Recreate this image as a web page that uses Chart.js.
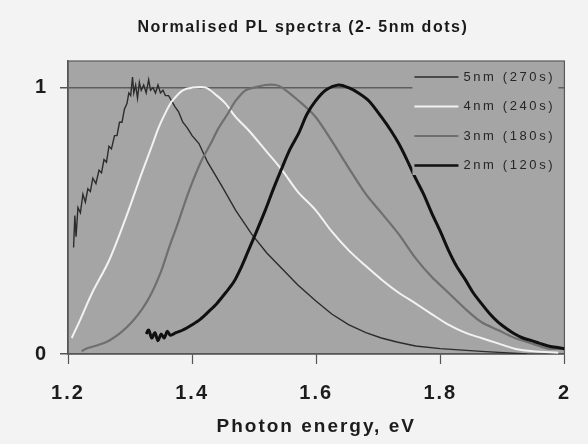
<!DOCTYPE html>
<html>
<head>
<meta charset="utf-8">
<script src="https://cdn.jsdelivr.net/npm/chart.js@4/dist/chart.umd.min.js"></script>
<style>
  html, body { margin: 0; padding: 0; background: #f3f3f3; }
  #wrap { width: 588px; height: 444px; }
</style>
</head>
<body>
<div id="wrap"><canvas id="c" width="588" height="444"></canvas></div>
<script>
// ---- data ----
const chartTitle = "Normalised PL spectra (2- 5nm dots)";
const xAxisTitle = "Photon energy, eV";
const seriesLabels = ["5nm (270s)", "4nm (240s)", "3nm (180s)", "2nm (120s)"];
const yTickValues = [0, 1];

const e5 = [1.209,1.211,1.213,1.216,1.220,1.224,1.228,1.232,1.236,1.240,1.245,1.250,1.254,1.258,1.262,1.266,1.270,1.275,1.279,1.283,1.287,1.291,1.295,1.298,1.301,1.304,1.306,1.309,1.312,1.315,1.318,1.322,1.326,1.330,1.333,1.337,1.341,1.345,1.349,1.353,1.357,1.362,1.367,1.372,1.378,1.385,1.392,1.400,1.411,1.425,1.448,1.470,1.496,1.520,1.545,1.570,1.599,1.625,1.652,1.680,1.705,1.730,1.760,1.800,1.866,1.940];
const v5 = [0.40,0.52,0.44,0.55,0.53,0.60,0.57,0.62,0.61,0.66,0.64,0.69,0.68,0.73,0.72,0.78,0.77,0.82,0.82,0.87,0.87,0.92,0.94,0.98,0.97,1.04,0.98,1.01,0.96,1.02,0.99,1.01,0.98,1.03,0.99,1.00,0.98,1.01,0.98,0.99,0.97,0.97,0.95,0.93,0.91,0.87,0.85,0.82,0.79,0.72,0.63,0.54,0.45,0.38,0.32,0.26,0.20,0.15,0.11,0.08,0.06,0.045,0.03,0.02,0.01,0.0];

const e4 = [1.206,1.220,1.239,1.266,1.293,1.319,1.335,1.346,1.358,1.368,1.385,1.400,1.422,1.440,1.454,1.470,1.491,1.520,1.545,1.570,1.599,1.625,1.652,1.680,1.705,1.733,1.760,1.786,1.813,1.840,1.866,1.893,1.920,1.950,1.990];
const v4 = [0.06,0.13,0.23,0.35,0.51,0.68,0.78,0.85,0.91,0.95,0.99,1.00,1.00,0.97,0.94,0.89,0.84,0.76,0.69,0.61,0.54,0.46,0.39,0.33,0.28,0.23,0.19,0.15,0.11,0.08,0.06,0.04,0.02,0.01,0.005];

const e3 = [1.222,1.229,1.250,1.266,1.285,1.303,1.320,1.335,1.350,1.363,1.377,1.390,1.403,1.416,1.430,1.443,1.457,1.470,1.486,1.500,1.518,1.535,1.545,1.572,1.599,1.625,1.652,1.680,1.705,1.733,1.760,1.786,1.813,1.840,1.866,1.893,1.920,1.947,1.974,2.000];
const v3 = [0.01,0.02,0.035,0.05,0.08,0.12,0.17,0.23,0.31,0.40,0.49,0.58,0.66,0.73,0.79,0.85,0.90,0.95,0.99,1.00,1.01,1.01,1.00,0.95,0.89,0.80,0.70,0.60,0.53,0.45,0.36,0.29,0.23,0.17,0.12,0.09,0.06,0.04,0.02,0.02];

const e2 = [1.326,1.330,1.335,1.340,1.345,1.350,1.355,1.360,1.365,1.374,1.385,1.400,1.413,1.427,1.440,1.454,1.467,1.480,1.491,1.502,1.518,1.531,1.545,1.558,1.572,1.585,1.599,1.615,1.636,1.652,1.668,1.685,1.705,1.720,1.733,1.746,1.760,1.773,1.786,1.800,1.813,1.826,1.840,1.853,1.866,1.880,1.893,1.907,1.920,1.933,1.947,1.960,1.974,1.987,2.000];
const v2 = [0.075,0.09,0.06,0.08,0.05,0.075,0.06,0.085,0.07,0.08,0.09,0.11,0.13,0.16,0.19,0.23,0.27,0.33,0.39,0.45,0.54,0.62,0.70,0.77,0.83,0.90,0.95,0.99,1.01,1.00,0.98,0.95,0.89,0.84,0.79,0.73,0.66,0.60,0.53,0.46,0.39,0.33,0.28,0.23,0.19,0.15,0.12,0.095,0.075,0.06,0.05,0.04,0.03,0.025,0.02];

// ---- styles ----
const lineColors = ["#2c2c2c", "#f2f2f2", "#6f6f6f", "#101010"];
const lineWidths = [1.4, 2, 2.2, 3];
const tensions   = [0, 0.3, 0.3, 0.3];
const plotBg = "#a5a5a5";
const FONT = "'Liberation Sans', Arial, sans-serif";

const pts = (xs, ys) => xs.map((x, i) => ({ x: x, y: ys[i] }));
const seriesData = [pts(e5, v5), pts(e4, v4), pts(e3, v3), pts(e2, v2)];

const framePlugin = {
  id: 'frame',
  beforeLayout(chart) { chart.ctx.letterSpacing = '2px'; },
  beforeDraw(chart) {
    const { ctx, chartArea: a } = chart;
    ctx.letterSpacing = '2px';
    ctx.save();
    ctx.fillStyle = plotBg;
    ctx.fillRect(a.left, a.top, a.right - a.left, a.bottom - a.top);
    ctx.strokeStyle = '#5a5a5a';
    ctx.lineWidth = 1.2;
    ctx.strokeRect(a.left, a.top, a.right - a.left, a.bottom - a.top);
    ctx.restore();
  },
  afterDraw(chart) {
    const { ctx } = chart;
    ctx.save();
    ctx.letterSpacing = '1.5px';
    ctx.font = "bold 16px " + FONT;
    ctx.fillStyle = '#1a1a1a';
    ctx.textAlign = 'center';
    ctx.textBaseline = 'middle';
    ctx.fillText(chartTitle, chart.width * 0.515, 28);
    ctx.restore();
  }
};

const legendPlugin = {
  id: 'insideLegend',
  afterDatasetsDraw(chart) {
    const { ctx, chartArea: a } = chart;
    const boxL = a.right - 152, boxR = a.right - 6, boxT = a.top + 2, boxB = a.top + 114;
    ctx.save();
    ctx.fillStyle = plotBg;
    ctx.fillRect(boxL, boxT, boxR - boxL, boxB - boxT);
    chart.data.datasets.forEach((ds, i) => {
      const y = a.top + 16 + i * 29.5;
      ctx.beginPath();
      ctx.strokeStyle = ds.borderColor;
      ctx.lineWidth = Math.min(ds.borderWidth, 2.4);
      ctx.moveTo(boxL + 2, y);
      ctx.lineTo(boxL + 46, y);
      ctx.stroke();
      ctx.letterSpacing = '2.6px';
      ctx.font = "13px " + FONT;
      ctx.fillStyle = '#262626';
      ctx.textAlign = 'left';
      ctx.textBaseline = 'middle';
      ctx.fillText(ds.label, boxL + 51, y);
    });
    ctx.restore();
  }
};

new Chart(document.getElementById('c'), {
  type: 'line',
  data: {
    datasets: seriesLabels.map((lab, i) => ({
      label: lab,
      data: seriesData[i],
      borderColor: lineColors[i],
      borderWidth: lineWidths[i],
      tension: tensions[i],
      pointRadius: 0,
      fill: false,
      order: 4 - i
    }))
  },
  options: {
    responsive: false,
    animation: false,
    devicePixelRatio: 1,
    layout: { padding: { left: 0, right: 22, top: 61, bottom: 0 } },
    plugins: {
      legend: { display: false },
      tooltip: { enabled: false },
      title: { display: false }
    },
    scales: {
      x: {
        type: 'linear',
        min: 1.2, max: 2.0,
        afterFit(s) { s.height = 90; },
        ticks: {
          stepSize: 0.2,
          color: '#1c1c1c',
          font: { family: FONT, size: 20, weight: 'bold' },
          padding: 17,
          maxRotation: 0,
          callback: v => String(+v.toFixed(1))
        },
        grid: { drawOnChartArea: false, tickLength: 10, tickColor: '#555', tickWidth: 1.2 },
        border: { color: '#555', width: 1.5 },
        title: {
          display: true,
          text: xAxisTitle,
          color: '#1c1c1c',
          font: { family: FONT, size: 19, weight: 'bold' },
          padding: { top: 0, bottom: 6 }
        }
      },
      y: {
        type: 'linear',
        min: 0, max: 1.1,
        afterFit(s) { s.width = 68; },
        afterBuildTicks(s) { s.ticks = yTickValues.map(v => ({ value: v })); },
        ticks: {
          color: '#1c1c1c',
          font: { family: FONT, size: 20, weight: 'bold' },
          padding: 12,
          callback: v => String(v)
        },
        grid: {
          color: c => (c.tick && c.tick.value === 1) ? '#5e5e5e' : 'rgba(0,0,0,0)',
          lineWidth: 1.5,
          tickLength: 8,
          tickColor: '#555'
        },
        border: { color: '#555', width: 1.5 }
      }
    }
  },
  plugins: [framePlugin, legendPlugin]
});
</script>
</body>
</html>
